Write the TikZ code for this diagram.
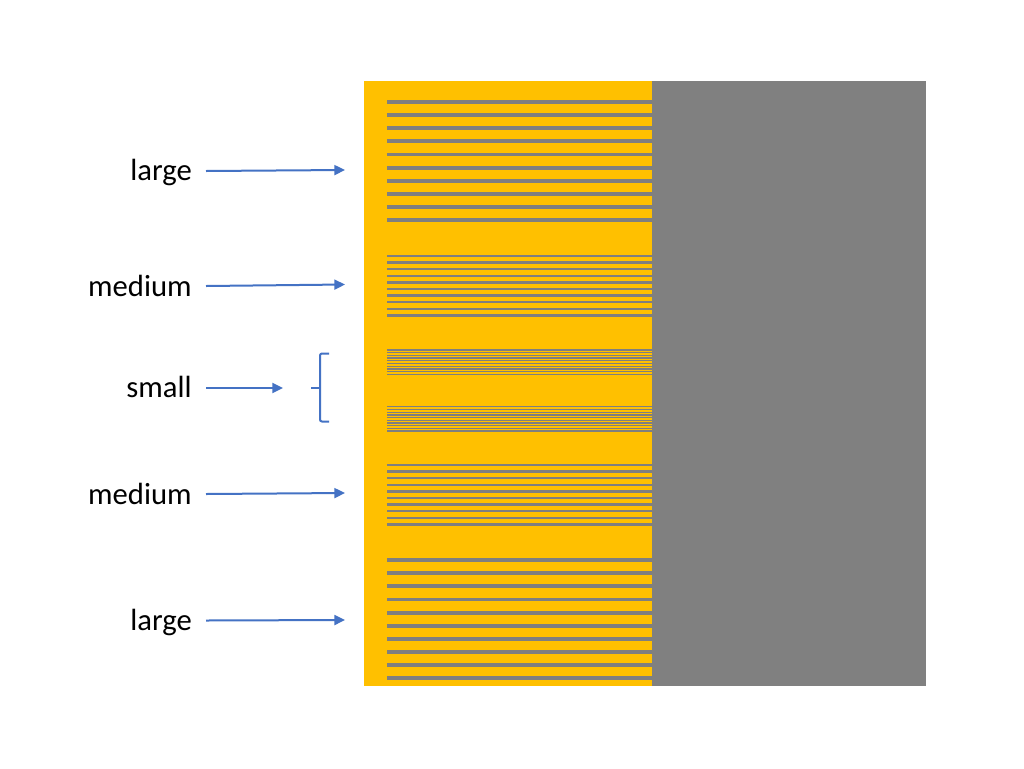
\documentclass[tikz,border=0pt]{standalone}
\usepackage{fontspec}
\setmainfont{Carlito}
\usetikzlibrary{arrows.meta}
\definecolor{ambar}{HTML}{FFC000}
\definecolor{slab}{HTML}{808080}
\definecolor{stripe}{HTML}{7F7F7F}
\definecolor{arrblue}{HTML}{4472C4}
\tikzset{
  lbl/.style={anchor=base east, inner sep=0pt, font=\fontsize{23}{27}\selectfont},
  arr/.style={draw=arrblue, line width=1.5pt, -{Triangle[length=8pt,width=7.5pt]}},
  brc/.style={draw=arrblue, line width=1.5pt, rounded corners=1.5pt},
}
\begin{document}
\begin{tikzpicture}[x=0.75pt,y=-0.75pt]
\useasboundingbox (0,0) rectangle (1024,768);
\fill[white] (0,0) rectangle (1024,768);
% panels
\fill[ambar] (364,81) rectangle (652,686);
\fill[slab] (652,81) rectangle (926,686);
% large top
\foreach \i in {0,...,9} {
  \pgfmathsetmacro{\yc}{101.7+13.18*\i}
  \fill[stripe] (387,\yc-1.9) rectangle (652,\yc+1.9);
}
% medium top
\foreach \i in {0,...,9} {
  \pgfmathsetmacro{\yc}{256+6.6*\i}
  \fill[stripe] (387,\yc-1.15) rectangle (652,\yc+1.15);
}
% small groups
\foreach \i in {0,...,9} {
  \pgfmathsetmacro{\yc}{350+2.7*\i}
  \fill[stripe] (387,\yc-0.65) rectangle (652,\yc+0.65);
  \pgfmathsetmacro{\yd}{406.8+2.7*\i}
  \fill[stripe] (387,\yd-0.65) rectangle (652,\yd+0.65);
}
% medium bottom
\foreach \i in {0,...,9} {
  \pgfmathsetmacro{\yc}{465+6.6*\i}
  \fill[stripe] (387,\yc-1.15) rectangle (652,\yc+1.15);
}
% large bottom
\foreach \i in {0,...,9} {
  \pgfmathsetmacro{\yc}{560+13.15*\i}
  \fill[stripe] (387,\yc-1.9) rectangle (652,\yc+1.9);
}
% labels
\node[lbl] (l1) at (192,180.5) {large};
\node[lbl] (l2) at (192,296) {medium};
\node[lbl] (l3) at (192,397) {small};
\node[lbl] (l4) at (192,504) {medium};
\node[lbl] (l5) at (192,630) {large};
% arrow ends
\coordinate (s1) at (206,171);
\coordinate (e1) at (345,170);
\coordinate (s2) at (206,286);
\coordinate (e2) at (345,284.5);
\coordinate (s3) at (206,388);
\coordinate (e3) at (283,388);
\coordinate (s4) at (206,494);
\coordinate (e4) at (345,493);
\coordinate (s5) at (206,620.5);
\coordinate (e5) at (345,620);
\draw[arr] (s1) -- (e1);
\draw[arr] (s2) -- (e2);
\draw[arr] (s3) -- (e3);
\draw[arr] (s4) -- (e4);
\draw[arr] (s5) -- (e5);
% brace
\coordinate (bt) at (329,353.5);
\coordinate (bb) at (329,421.5);
\coordinate (bm) at (311,387.5);
\draw[brc] (bt) -- (320,353.5) -- (320,421.5) -- (bb);
\draw[brc] (bm) -- (320,387.5);
\end{tikzpicture}
\end{document}
